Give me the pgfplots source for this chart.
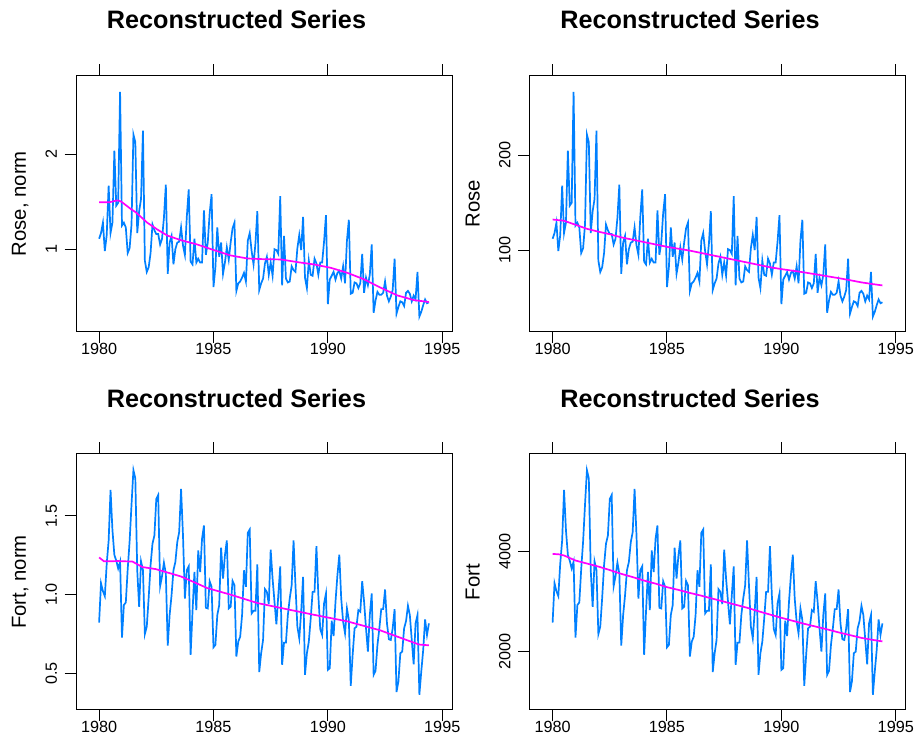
\documentclass[border=0pt]{standalone}
\usepackage{fontspec}
\setmainfont{Liberation Sans}
\usepackage{pgfplots}
\usepackage{pgfplotstable}
\pgfplotsset{compat=1.18}
\definecolor{ssablue}{HTML}{0080FF}
\definecolor{ssamag}{HTML}{FF00FF}

% monthly wine sales, Jan 1980 - Jun 1994
\pgfplotstableread{
t rose fort
1980.000 112 2585
1980.083 118 3368
1980.167 129 3210
1980.250 99 3111
1980.333 116 3756
1980.417 168 4216
1980.500 118 5225
1980.583 129 4426
1980.667 205 3932
1980.750 147 3816
1980.833 150 3661
1980.917 267 3795
1981.000 126 2285
1981.083 129 2934
1981.167 124 2985
1981.250 97 3646
1981.333 102 4198
1981.417 127 4935
1981.500 222 5618
1981.583 214 5454
1981.667 118 3624
1981.750 141 2898
1981.833 154 3802
1981.917 226 3629
1982.000 89 2357
1982.083 77 2503
1982.167 82 3079
1982.250 97 3728
1982.333 127 4153
1982.417 121 4318
1982.500 117 5045
1982.583 117 5124
1982.667 106 3308
1982.750 112 3506
1982.833 134 3777
1982.917 169 3559
1983.000 75 2126
1983.083 108 2734
1983.167 115 3130
1983.250 85 3625
1983.333 101 3790
1983.417 108 4186
1983.500 109 4384
1983.583 124 5243
1983.667 105 4318
1983.750 95 3064
1983.833 135 3625
1983.917 164 3704
1984.000 88 1941
1984.083 85 2800
1984.167 112 3592
1984.250 87 2833
1984.333 91 4021
1984.417 87 3592
1984.500 87 4252
1984.583 142 4516
1984.667 95 2879
1984.750 108 2866
1984.833 139 3407
1984.917 159 3295
1985.000 61 2093
1985.083 82 2139
1985.167 124 2734
1985.250 93 2932
1985.333 108 4074
1985.417 75 3460
1985.500 87 3922
1985.583 103 4219
1985.667 90 2866
1985.750 108 2899
1985.833 123 3414
1985.917 129 3328
1986.000 57 1908
1986.083 65 2205
1986.167 67 2304
1986.250 71 2734
1986.333 76 3625
1986.417 67 3295
1986.500 110 4371
1986.583 118 4437
1986.667 99 2767
1986.750 85 2819
1986.833 107 2819
1986.917 141 3744
1987.000 58 1598
1987.083 65 1974
1987.167 70 2238
1987.250 86 3249
1987.333 93 3196
1987.417 74 2952
1987.500 87 4034
1987.583 73 3460
1987.667 101 2998
1987.750 100 2549
1987.833 96 3130
1987.917 157 3704
1988.000 63 1743
1988.083 115 2186
1988.167 70 2186
1988.250 66 2734
1988.333 67 3064
1988.417 83 3328
1988.500 79 4219
1988.583 77 3328
1988.667 102 2503
1988.750 116 2271
1988.833 100 2800
1988.917 135 3493
1989.000 71 1545
1989.083 60 1974
1989.167 89 2205
1989.250 74 2668
1989.333 73 3196
1989.417 91 3196
1989.500 86 4107
1989.583 74 3130
1989.667 87 2456
1989.750 87 2338
1989.833 109 2965
1989.917 137 3163
1990.000 43 1644
1990.083 69 1677
1990.167 73 2621
1990.250 77 2318
1990.333 69 2998
1990.417 76 3526
1990.500 78 3935
1990.583 70 3064
1990.667 83 2602
1990.750 65 2370
1990.833 110 2866
1990.917 132 2635
1991.000 54 1327
1991.083 55 1941
1991.167 66 2470
1991.250 65 2503
1991.333 60 2833
1991.417 65 2800
1991.500 96 3407
1991.583 55 2998
1991.667 71 2470
1991.750 63 2007
1991.833 74 2734
1991.917 106 3163
1992.000 34 1545
1992.083 47 1624
1992.167 56 2139
1992.250 53 2470
1992.333 53 2853
1992.417 55 2853
1992.500 67 3242
1992.583 52 2569
1992.667 46 2252
1992.750 51 2238
1992.833 58 2470
1992.917 91 2853
1993.000 33 1202
1993.083 40 1413
1993.167 46 1974
1993.250 45 2007
1993.333 41 2470
1993.417 55 2615
1993.500 57 2919
1993.583 54 2734
1993.667 46 2238
1993.750 52 1756
1993.833 48 2569
1993.917 77 2734
1994.000 30 1149
1994.083 35 1611
1994.167 42 2040
1994.250 48 2648
1994.333 44 2338
1994.417 45 2569
}\wine

% trend of the normalised Rose series (in Rose units, 1 norm = 100.7)
\pgfplotstableread{
t v
1980.000 150.5
1980.442 150.5
1980.800 152.5
1980.950 151.5
1981.383 143.5
1981.600 140.0
1982.108 128.9
1982.550 121.7
1982.983 115.4
1983.567 110.6
1984.300 105.9
1985.025 100.0
1985.750 94.4
1986.483 91.2
1987.167 90.5
1987.942 90.2
1988.667 87.4
1989.400 84.9
1990.125 81.4
1990.850 76.1
1991.583 69.2
1992.308 60.4
1993.033 52.3
1993.767 47.3
1994.417 45.3
}\rosenormtr

% trend of Rose
\pgfplotstableread{
t v
1980.000 132.3
1980.500 131.0
1981.000 126.8
1981.500 122.5
1982.000 119.5
1982.500 116.8
1983.000 113.5
1983.500 111.0
1984.000 108.5
1984.500 106.0
1985.000 103.5
1985.500 101.5
1986.000 99.5
1986.500 97.0
1987.000 94.5
1987.500 92.0
1988.000 89.5
1988.500 87.0
1989.000 84.5
1989.500 82.0
1990.000 80.0
1990.500 78.3
1991.000 76.5
1991.500 74.5
1992.000 72.5
1992.500 70.5
1993.000 68.3
1993.500 66.0
1994.000 64.2
1994.417 62.8
}\rosetr

% trend of the normalised Fort series (in Fort units, 1 norm = 3140)
\pgfplotstableread{
t v
1980.000 3881
1980.217 3803
1980.833 3809
1981.458 3799
1981.892 3690
1982.475 3649
1983.567 3504
1984.000 3419
1984.725 3272
1985.750 3140
1986.917 2974
1987.942 2876
1989.375 2741
1990.850 2609
1992.292 2430
1993.000 2311
1993.983 2148
1994.417 2132
}\fortnormtr

% trend of Fort
\pgfplotstableread{
t v
1980.000 3950
1980.250 3945
1980.500 3920
1980.750 3870
1981.000 3820
1981.500 3760
1982.000 3700
1982.500 3630
1983.000 3555
1983.500 3490
1984.000 3420
1984.500 3360
1985.000 3290
1985.500 3235
1986.000 3175
1986.500 3120
1987.000 3060
1987.500 3000
1988.000 2940
1988.500 2880
1989.000 2810
1989.500 2745
1990.000 2680
1990.500 2620
1991.000 2560
1991.500 2505
1992.000 2450
1992.500 2390
1993.000 2335
1993.500 2280
1994.000 2240
1994.417 2210
}\forttr

\pgfplotsset{ssapanel/.style={
  scale only axis, width=376pt, height=256pt,
  xmin=1978.99, xmax=1995.426,
  axis line style={line width=1pt},
  tick align=outside, major tick length=11.5pt,
  every tick/.style={black, line width=1pt},
  xtick={1980,1985,1990,1995}, xticklabels={1980,1985,1990,1995},
  xtick pos=both, ytick pos=left, xticklabel pos=lower, yticklabel pos=left,
  ticklabel style={font=\fontsize{16.2}{18}\selectfont},
  yticklabel style={rotate=90, anchor=south},
  yticklabel shift=4pt, xticklabel shift=-4pt,
  title={Reconstructed Series},
  title style={font=\fontsize{25.2}{29}\selectfont\bfseries,
    at={(axis description cs:0.4269,1.159)}, anchor=base},
  every axis y label/.style={at={(axis description cs:-0.133,0.5)},
    rotate=90, anchor=base, font=\fontsize{20.3}{24}\selectfont},
}}

\begin{document}
\begin{tikzpicture}[x=1pt,y=1pt]
\useasboundingbox (0,0) rectangle (915,751);

\begin{axis}[ssapanel, at={(76pt,419.3pt)}, anchor=south west,
  ymin=14, ymax=284, ytick={100.7,201.4}, yticklabels={1,2},
  ylabel={Rose, norm}]
\addplot[ssablue, line width=1.7pt] table[x=t, y=rose] {\wine};
\addplot[ssamag, line width=1.7pt] table[x=t, y=v] {\rosenormtr};
\end{axis}

\begin{axis}[ssapanel, at={(529.5pt,419.3pt)}, anchor=south west,
  ymin=14, ymax=284, ytick={100,200}, yticklabels={100,200},
  ylabel={Rose}]
\addplot[ssablue, line width=1.7pt] table[x=t, y=rose] {\wine};
\addplot[ssamag, line width=1.7pt] table[x=t, y=v] {\rosetr};
\end{axis}

\begin{axis}[ssapanel, at={(76pt,41pt)}, anchor=south west,
  ymin=845, ymax=5940, ytick={1570,3140,4710}, yticklabels={0.5,1.0,1.5},
  ylabel={Fort, norm}]
\addplot[ssablue, line width=1.7pt] table[x=t, y=fort] {\wine};
\addplot[ssamag, line width=1.7pt] table[x=t, y=v] {\fortnormtr};
\end{axis}

\begin{axis}[ssapanel, at={(529.5pt,41pt)}, anchor=south west,
  ymin=845, ymax=5940, ytick={2000,4000}, yticklabels={2000,4000},
  ylabel={Fort}]
\addplot[ssablue, line width=1.7pt] table[x=t, y=fort] {\wine};
\addplot[ssamag, line width=1.7pt] table[x=t, y=v] {\forttr};
\end{axis}
\end{tikzpicture}
\end{document}
